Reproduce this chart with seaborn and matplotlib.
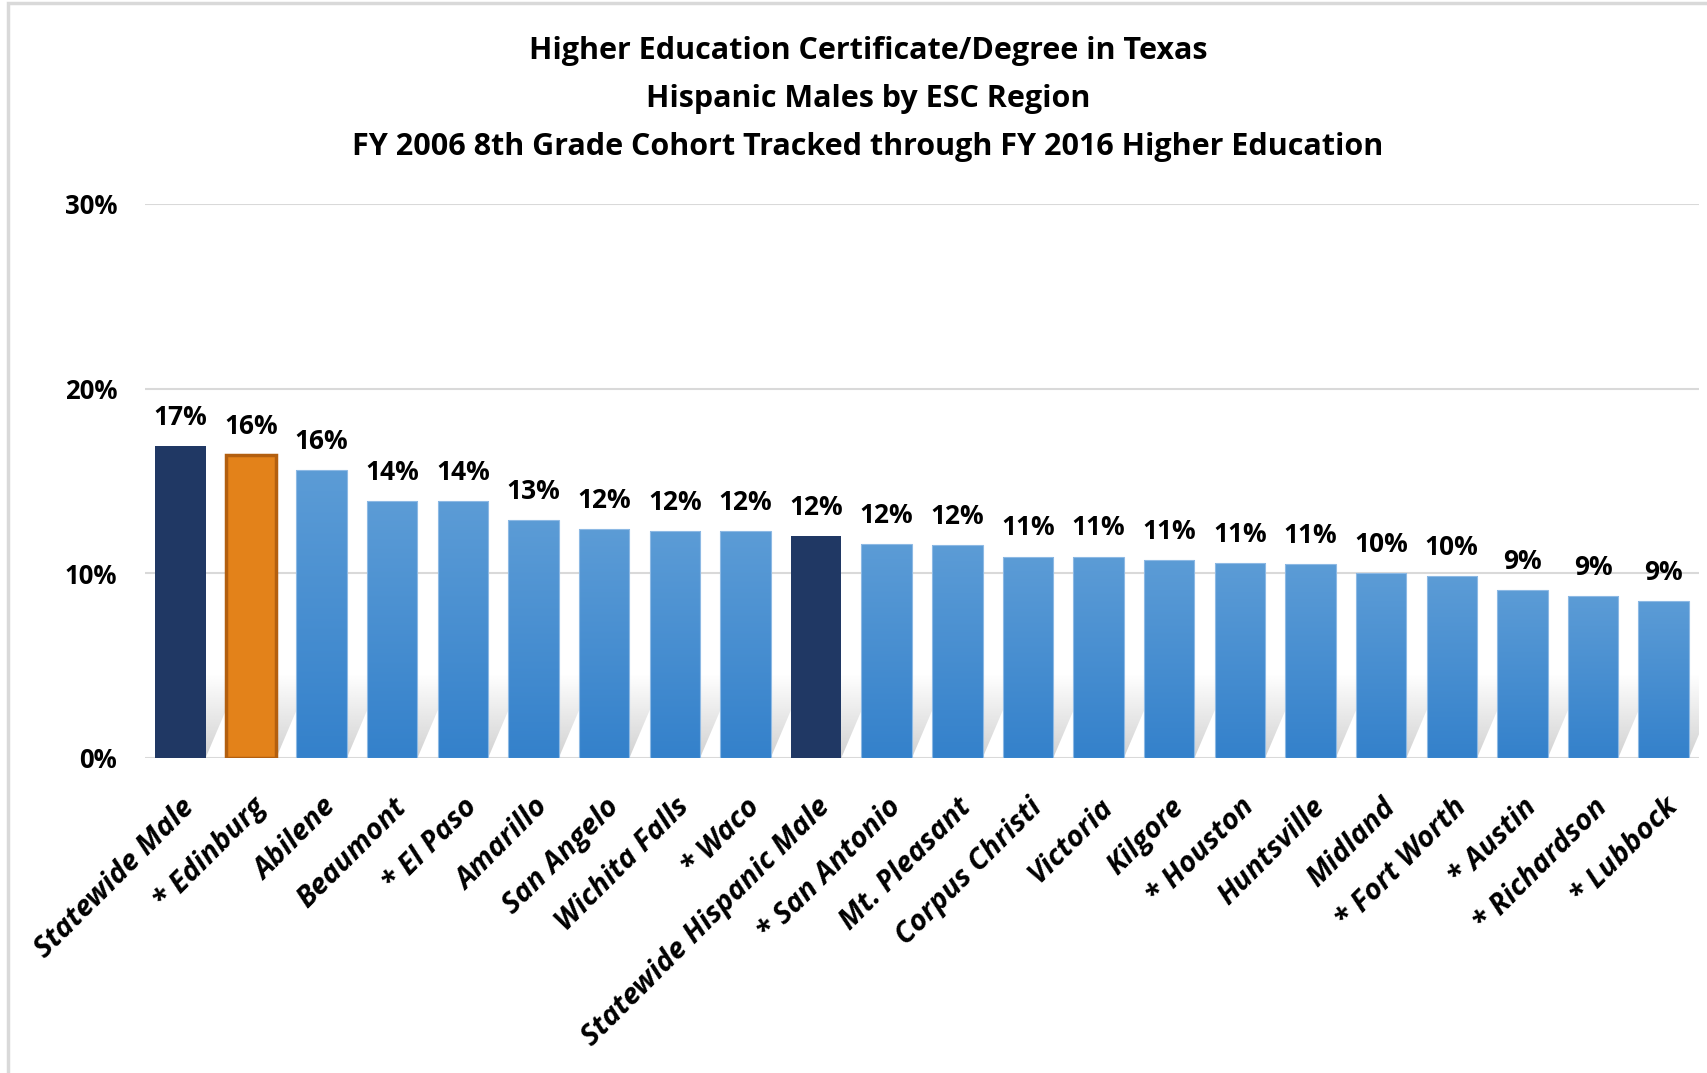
import numpy as np
import pandas as pd
import matplotlib.pyplot as plt
import seaborn as sns
from matplotlib.colors import LinearSegmentedColormap
from matplotlib.patches import Polygon, Rectangle

sns.set_style("white")
plt.rcParams["font.family"] = ["Open Sans", "DejaVu Sans"]
plt.rcParams["text.color"] = "black"
plt.rcParams["xtick.color"] = "black"
plt.rcParams["ytick.color"] = "black"

# data (percent)
regions = ["Statewide Male", "* Edinburg", "Abilene", "Beaumont", "* El Paso",
           "Amarillo", "San Angelo", "Wichita Falls", "* Waco",
           "Statewide Hispanic Male", "* San Antonio", "Mt. Pleasant",
           "Corpus Christi", "Victoria", "Kilgore", "* Houston", "Huntsville",
           "Midland", "* Fort Worth", "* Austin", "* Richardson", "* Lubbock"]
pct = [16.9, 16.4, 15.6, 13.9, 13.9, 12.9, 12.4, 12.3, 12.3, 12.0, 11.6,
       11.52, 10.9, 10.9, 10.7, 10.55, 10.51, 10.0, 9.85, 9.1, 8.75, 8.51]
kind = ["statewide", "focus"] + ["region"] * 7 + ["statewide"] + ["region"] * 12

title_lines = ["Higher Education Certificate/Degree in Texas",
               "Hispanic Males by ESC Region",
               "FY 2006 8th Grade Cohort Tracked through FY 2016 Higher Education"]

palette = {"statewide": "#203864", "focus": "#E3821A", "region": "#5B9BD5"}

df = pd.DataFrame({"region": regions, "pct": pct, "kind": kind})

W, H = 1708, 1073
fig = plt.figure(figsize=(W / 100, H / 100), dpi=100)
ax = fig.add_axes([145 / W, 1 - 758 / H, (1699 - 145) / W, (758 - 204) / H])

sns.barplot(data=df, x="region", y="pct", hue="kind", palette=palette,
            dodge=False, width=0.715, saturation=1, legend=False, ax=ax, zorder=2)

bars = sorted(ax.patches, key=lambda p: p.get_x())

blue_cmap = LinearSegmentedColormap.from_list("bl", ["#3481CB", "#5C9CD6"])
grad = np.linspace(0, 1, 256).reshape(-1, 1)

# soft perspective shadow behind each bar
shadow = np.zeros((256, 1, 4))
shadow[..., :3] = 0.6
shadow[:, 0, 3] = np.linspace(0.45, 0.0, 256)
sh_h, sh_dx = 4.5, 0.5

for p, k in zip(bars, kind):
    x0, w, h = p.get_x(), p.get_width(), p.get_height()
    poly = Polygon([(x0, 0), (x0 + w, 0), (x0 + w + sh_dx, sh_h), (x0 + sh_dx, sh_h)],
                   closed=True, facecolor="none", edgecolor="none")
    ax.add_patch(poly)
    im = ax.imshow(shadow, extent=[x0, x0 + w + sh_dx, 0, sh_h], origin="lower",
                   aspect="auto", zorder=1, interpolation="bilinear")
    im.set_clip_path(poly)

    if k == "region":
        im = ax.imshow(grad, extent=[x0, x0 + w, 0, h], origin="lower", cmap=blue_cmap,
                       aspect="auto", zorder=2.1)
        im.set_clip_path(p)
        p.set_facecolor("none")
        p.set_edgecolor("#8DB9E4")
        p.set_linewidth(0.8)
        p.set_zorder(2.2)
    elif k == "focus":
        p.set_edgecolor("#B35F0F")
        p.set_linewidth(2.5)
    else:
        p.set_edgecolor("none")

for i, v in enumerate(pct):
    ax.annotate(f"{v:.0f}%", (i, v), xytext=(0, 11), textcoords="offset points",
                ha="center", va="bottom", fontsize=19, fontweight="bold")

ax.set_xlim(-0.5, len(regions) - 0.5)
ax.set_ylim(0, 30)
ax.set_yticks([0, 10, 20, 30])
ax.set_yticklabels([f"{t}%" for t in [0, 10, 20, 30]], fontsize=18.5, fontweight="bold")
ax.yaxis.grid(True, color="#D9D9D9", lw=1.5)
ax.set_axisbelow(True)
sns.despine(ax=ax, left=True, bottom=True)
ax.tick_params(axis="y", length=0, pad=20)
ax.tick_params(axis="x", length=0, pad=25)
ax.set_xlabel("")
ax.set_ylabel("")
ax.set_xticks(range(len(regions)))
ax.set_xticklabels(regions, rotation=45, ha="right", rotation_mode="anchor",
                   fontsize=21, fontweight="bold", fontstyle="italic")

for txt, ypx in zip(title_lines, [51, 99, 147]):
    fig.text(868 / W, 1 - ypx / H, txt, ha="center", va="center",
             fontsize=22, fontweight="bold")

fig.add_artist(Rectangle((8 / W, -0.05), 1.1, (H - 3) / H + 0.05,
                         transform=fig.transFigure, fill=False,
                         edgecolor="#D9D9D9", lw=2.5))

fig.savefig("out.png", dpi=100)
